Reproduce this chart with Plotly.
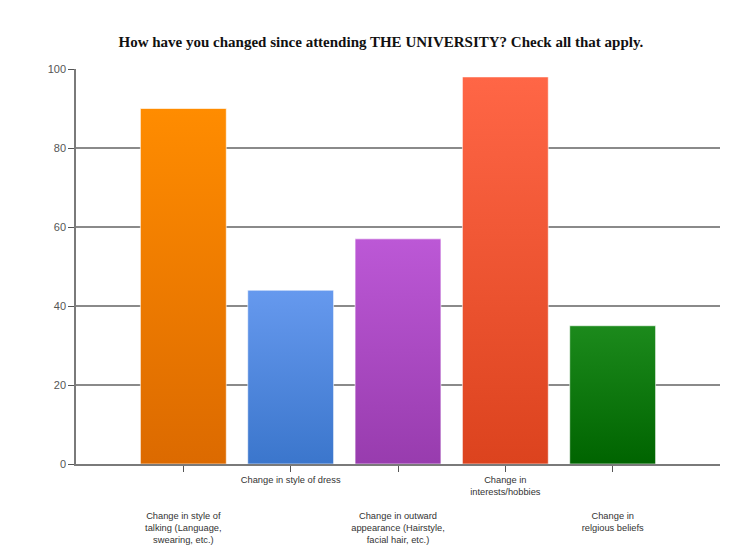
import plotly.graph_objects as go

categories = [
    "Change in style of<br>talking (Language,<br>swearing, etc.)",
    "Change in style of dress",
    "Change in outward<br>appearance (Hairstyle,<br>facial hair, etc.)",
    "Change in<br>interests/hobbies",
    "Change in<br>relgious beliefs",
]
values = [90, 44, 57, 98, 35]
top_colors = ["#FF8C00", "#6699EE", "#BC58D6", "#FF6646", "#1C8A1C"]
bottom_colors = ["#DC6A00", "#3B76CC", "#983CAE", "#DC431E", "#006400"]
y_ticks = [0, 20, 40, 60, 80, 100]

bar_width = 0.8
positions = list(range(1, len(categories) + 1))

fig = go.Figure()
for pos, v, top, bot in zip(positions, values, top_colors, bottom_colors):
    h = bar_width / 2
    fig.add_trace(go.Scatter(
        x=[pos - h, pos - h, pos + h, pos + h, pos - h],
        y=[0, v, v, 0, 0],
        mode="lines",
        line=dict(color="rgba(255,255,255,0.6)", width=1),
        fill="toself",
        fillgradient=dict(type="vertical", colorscale=[[0, bot], [1, top]]),
        hoverinfo="skip",
        showlegend=False,
    ))

ticktext = [("<br><br><br>" + c) if i % 2 == 0 else c for i, c in enumerate(categories)]

fig.update_layout(
    width=727, height=551,
    margin=dict(l=68, r=15, t=61, b=95),
    paper_bgcolor="white", plot_bgcolor="white",
    title=dict(
        text="<b>How have you changed since attending THE UNIVERSITY? Check all that apply.</b>",
        x=0.513, xanchor="center", y=0.938, yanchor="middle",
        font=dict(family="Liberation Serif", size=15, color="#111"),
    ),
    xaxis=dict(
        range=[0, 6], tickvals=positions, ticktext=ticktext,
        showgrid=False, zeroline=False,
        showline=True, linecolor="#7a7a7a", linewidth=1.5,
        ticks="outside", ticklen=6, tickcolor="#555", tickwidth=1,
        tickfont=dict(family="Liberation Sans", size=9.3, color="#333"),
        tickangle=0, fixedrange=True, automargin=False,
    ),
    yaxis=dict(
        range=[0, 100], tickvals=y_ticks,
        showgrid=True, gridcolor="#8a8a8a", gridwidth=1.5,
        zeroline=False,
        showline=True, linecolor="#7a7a7a", linewidth=1.5,
        ticks="outside", ticklen=6, tickcolor="#555", tickwidth=1,
        tickfont=dict(family="Liberation Sans", size=11, color="#555"),
        fixedrange=True, automargin=False,
    ),
)

fig.write_html("out.html")
